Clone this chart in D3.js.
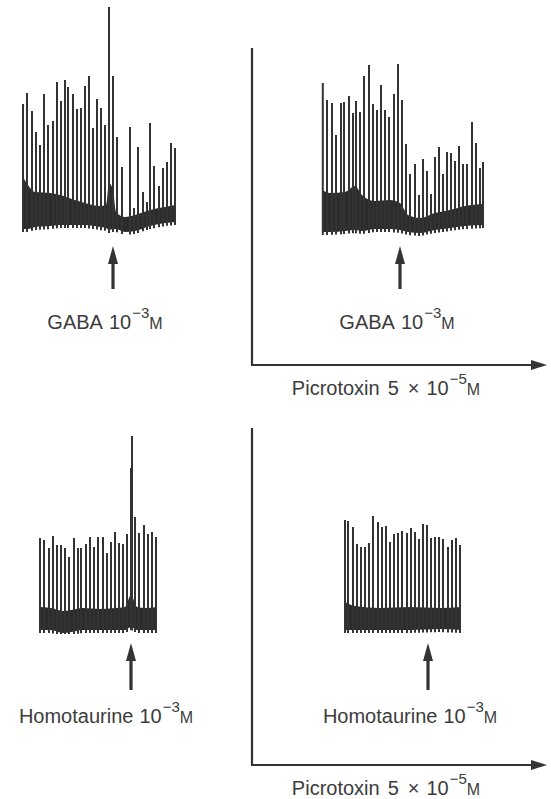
<!DOCTYPE html>
<html><head><meta charset="utf-8">
<script src="https://cdn.jsdelivr.net/npm/d3@7"></script>
<style>
html,body{margin:0;padding:0;background:#fff;}
svg{display:block;}
text{font-family:"Liberation Sans",Arial,Helvetica,sans-serif;fill:#3c3c3c;}
</style></head>
<body>
<svg id="chart" width="551" height="799"></svg>
<script>
// ---- Data (time in s, potential in mV above trace floor) ----
const panelNames = ["GABA control", "GABA + picrotoxin", "Homotaurine control", "Homotaurine + picrotoxin"];
const drugLabels = ["GABA", "GABA", "Homotaurine", "Homotaurine"];
const drugConc = ["10", "−3"];
const antagonistLabel = ["Picrotoxin", "5", "×", "10", "−5"];
const applyTimes = [22.5, 19.5, 23, 20.75];

// Panel 1: GABA control
const p1SpikeT = [0,1,2.25,3.25,4.25,5.25,6.25,7.5,8.5,9.5,10.5,11.25,12.5,13.5,14.5,15.5,16.5,17.5,18.5,19.5,20.5,21.5,22.5,23.5,24.75,26.75,27.75,28.75,30,31,31.75,32.75,34,35,36,37,38];
const p1SpikeV = [65,70.5,61.5,51,44.5,70,54.5,56.5,76,66.5,77,73.5,70,62.5,63,74,79,53,67.5,63,54.5,113.5,79,48.5,33.5,53.5,13,43.5,21,16,55.5,34,24,33,36,45.5,43];
const p1EnvT  = [0,1.25,3,6.75,9.25,13,15.5,19.25,20.75,21.5,22.5,23.25,25.5,28,31.75,35.5,38];
const p1EnvHi = [28.5,24.5,21,20.5,19.5,17,15.5,14,14.5,25.5,22,11,8.5,9.5,12,13.5,14.5];
const p1EnvLo = [2.5,2.5,3.5,4,4.5,4.5,4.5,3.5,3,2,2.5,2.5,1,1.5,4,5.5,6];

// Panel 2: GABA with picrotoxin
const p2SpikeT = [0.2,1.25,2.5,3.5,4.75,5.5,6.75,7.75,8.5,9.5,10.5,11.75,12.75,13.75,14.75,15.75,16.75,18,19,20,21,22,23.25,24.25,25.25,26.25,27.25,28.25,29.25,30.25,31.25,32.25,33.25,34.25,35.25,36.25,37.5,38.5,39.5,40.25];
const p2SpikeV = [76.5,68,66.5,50.5,66.5,67,70,61.5,67.5,62,80,85.5,66,63,75.5,63,59.5,71,86,68,46,31,36,20.5,38.5,32.5,21,39.5,44.5,31,42,41.5,37.5,45,36,36,57,46.5,34,37];
const p2EnvT  = [0,2,5.75,8.25,10,13.25,17,19.5,21.5,24.5,28.25,32,35.75,40.5];
const p2EnvHi = [23,21.5,22,25,20.5,17.5,18,16.5,10.5,9,11.5,13,15,16];
const p2EnvLo = [2,2,2.5,3,2.5,3.5,3.5,3,2,1.5,3,4,5,5.5];

// Panel 3: Homotaurine control
const p3SpikeT = [0.25,1.25,2.5,3.5,4.5,5.5,6.5,7.5,8.75,9.75,10.5,11.75,12.75,13.75,14.75,16,17,18,19,20,21,22,23,23.25,24,25,26.25,27.25,28.25,29.25];
const p3SpikeV = [47.5,46.5,42.5,48.5,44,44,42.5,38,47.5,42.5,42.5,44.5,48,43,48,48,40,45.5,50.5,45,44.5,49.5,82.5,98.5,58,50,54,49.5,50.5,48];
const p3EnvT  = [0,3,6,8,11,15,19,21.5,23,24.5,26.5,29.5];
const p3EnvHi = [13,12.5,11,11.5,12.5,12,12.5,13,19,13,12.5,13];
const p3EnvLo = [1.5,1.5,0,0.5,1.5,1.5,1.5,1.5,3,1.5,1.5,1.5];

// Panel 4: Homotaurine with picrotoxin
const p4SpikeT = [0,0.75,2,3,4,5,6,7,8.25,9.25,10.25,11.25,12.25,13.25,14.25,15.5,16.5,17.5,18.5,19.5,20.5,21.5,22.5,23.5,24.5,25.75,26.75,27.75,28.75];
const p4SpikeV = [56.5,56,53,44.5,43,43,45,58.5,55.5,53,53.5,45.5,49.5,50,51,50,52.5,50.5,47,54.5,54,47.5,48,48,47,43,46.5,47.5,44];
const p4EnvT  = [0,2.5,8.75,16.25,23.75,29];
const p4EnvHi = [15.5,13.5,12.5,13,12.5,13];
const p4EnvLo = [1.5,1.5,1.5,1.5,2,1.5];

const panelData = [
  {t:p1SpikeT, v:p1SpikeV, et:p1EnvT, hi:p1EnvHi, lo:p1EnvLo},
  {t:p2SpikeT, v:p2SpikeV, et:p2EnvT, hi:p2EnvHi, lo:p2EnvLo},
  {t:p3SpikeT, v:p3SpikeV, et:p3EnvT, hi:p3EnvHi, lo:p3EnvLo},
  {t:p4SpikeT, v:p4SpikeV, et:p4EnvT, hi:p4EnvHi, lo:p4EnvLo}
];

// ---- Layout ----
const layout = [
  {x0:23,  y0:234, labelX:105, labelY:329, arrowTip:246, arrowTail:289},
  {x0:322, y0:236, labelX:397, labelY:329, arrowTip:246, arrowTail:289},
  {x0:39,  y0:633, labelX:106, labelY:723, arrowTip:643, arrowTail:690},
  {x0:345, y0:633, labelX:410, labelY:723, arrowTip:643, arrowTail:690}
];
const pxPerS = 4, pxPerMV = 2;
const ink = "#333";

const svg = d3.select("#chart");

function concLabel(sel, x, y, parts, anchor) {
  const t = sel.append("text").attr("x", x).attr("y", y)
    .attr("text-anchor", anchor).attr("font-size", 20);
  return t;
}

panelData.forEach((d, i) => {
  const L = layout[i];
  const T = d3.max(d.t.concat(d.et));
  const x = d3.scaleLinear().domain([0, T]).range([L.x0, L.x0 + T * pxPerS]);
  const y = d3.scaleLinear().domain([0, 120]).range([L.y0, L.y0 - 120 * pxPerMV]);
  const g = svg.append("g").attr("class", "panel").attr("data-name", panelNames[i]);

  const env = d.et.map((t, k) => ({t, hi: d.hi[k], lo: d.lo[k]}));
  const loAt = d3.scaleLinear().domain(d.et).range(d.lo);

  g.append("path")
    .datum(env)
    .attr("d", d3.area().x(e => x(e.t)).y0(e => y(e.lo)).y1(e => y(e.hi)).curve(d3.curveMonotoneX))
    .attr("fill", "#2c2c2c");

  g.selectAll("line.spike")
    .data(d.t.map((t, k) => ({t, v: d.v[k]})))
    .join("line")
    .attr("class", "spike")
    .attr("x1", s => x(s.t)).attr("x2", s => x(s.t))
    .attr("y1", s => y(Math.max(-0.5, loAt(s.t) - 1.5)))
    .attr("y2", s => y(s.v))
    .attr("stroke", ink).attr("stroke-width", 2);

  // application arrow
  const ax = x(applyTimes[i]);
  g.append("line").attr("x1", ax).attr("x2", ax)
    .attr("y1", L.arrowTip + 14).attr("y2", L.arrowTail)
    .attr("stroke", ink).attr("stroke-width", 3.2);
  g.append("path")
    .attr("d", d3.line()([[ax, L.arrowTip], [ax - 5, L.arrowTip + 18], [ax + 5, L.arrowTip + 18]]) + "Z")
    .attr("fill", ink);

  // label
  const txt = g.append("text").attr("x", L.labelX).attr("y", L.labelY)
    .attr("text-anchor", "middle").attr("font-size", 20);
  txt.append("tspan").text(drugLabels[i]);
  txt.append("tspan").attr("dx", 6).text(drugConc[0]);
  txt.append("tspan").attr("dy", -11).attr("dx", 1).attr("font-size", 15).text(drugConc[1]);
  txt.append("tspan").attr("dy", 11).attr("font-size", 16).text("M");
});

// Picrotoxin axes (right column)
const axesLayout = [
  {x:252, yTop:48, yBase:365, xEnd:547, labelY:395},
  {x:252, yTop:428, yBase:765, xEnd:547, labelY:795}
];
axesLayout.forEach(A => {
  const g = svg.append("g").attr("class", "antagonist");
  g.append("path")
    .attr("d", d3.line()([[A.x, A.yTop], [A.x, A.yBase], [A.xEnd - 12, A.yBase]]))
    .attr("fill", "none").attr("stroke", ink).attr("stroke-width", 2.2);
  g.append("path")
    .attr("d", d3.line()([[A.xEnd, A.yBase], [A.xEnd - 16, A.yBase - 5], [A.xEnd - 16, A.yBase + 5]]) + "Z")
    .attr("fill", ink);
  const t = g.append("text").attr("x", 386).attr("y", A.labelY)
    .attr("text-anchor", "middle").attr("font-size", 20);
  t.append("tspan").text(antagonistLabel[0]);
  t.append("tspan").attr("dx", 8).text(antagonistLabel[1]);
  t.append("tspan").attr("dx", 9).text(antagonistLabel[2]);
  t.append("tspan").attr("dx", 7).text(antagonistLabel[3]);
  t.append("tspan").attr("dy", -11).attr("dx", 1).attr("font-size", 15).text(antagonistLabel[4]);
  t.append("tspan").attr("dy", 11).attr("font-size", 16).text("M");
});
</script>
</body></html>
